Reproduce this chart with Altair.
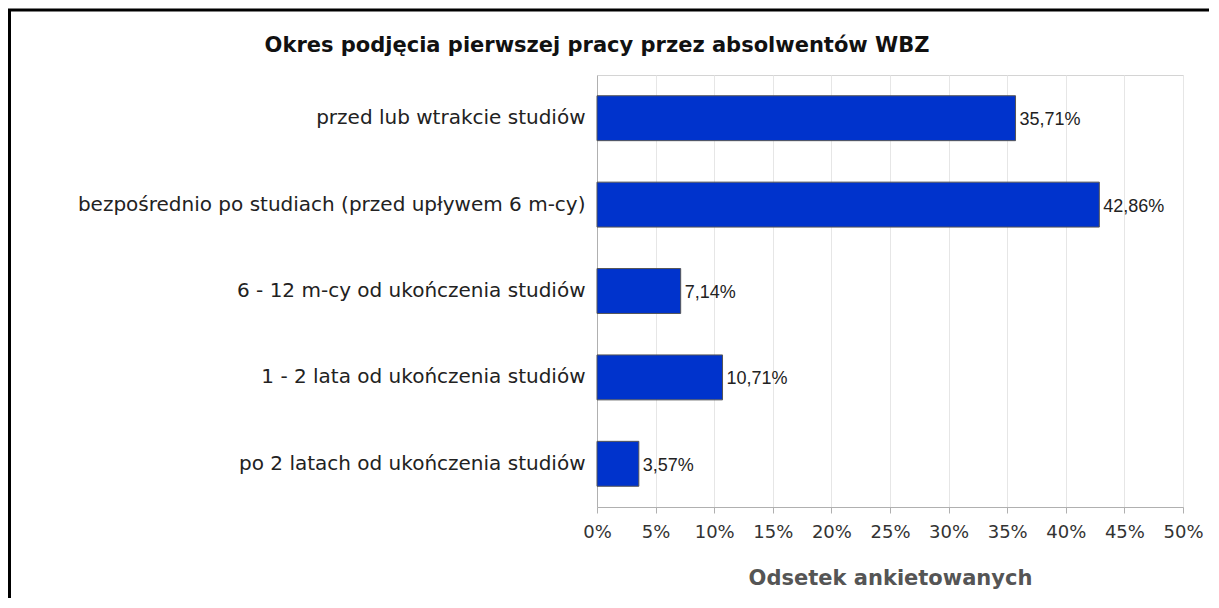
import altair as alt
import pandas as pd

title_text = "Okres podjęcia pierwszej pracy przez absolwentów WBZ"
categories = [
    "przed lub wtrakcie studiów",
    "bezpośrednio po studiach (przed upływem 6 m-cy)",
    "6 - 12 m-cy od ukończenia studiów",
    "1 - 2 lata od ukończenia studiów",
    "po 2 latach od ukończenia studiów",
]
values = [35.71, 42.86, 7.14, 10.71, 3.57]
value_labels = ["35,71%", "42,86%", "7,14%", "10,71%", "3,57%"]
x_ticks = [0, 5, 10, 15, 20, 25, 30, 35, 40, 45, 50]

df = pd.DataFrame({"cat": categories, "val": values, "lab": value_labels})

W, H = 586, 432

base = alt.Chart(df)

y_enc = alt.Y(
    "cat:N",
    sort=categories,
    scale=alt.Scale(paddingInner=0.48, paddingOuter=0.24),
    axis=alt.Axis(
        title=None,
        ticks=False,
        labelFont="DejaVu Sans",
        labelFontSize=20,
        labelColor="#222222",
        labelPadding=12,
        labelLimit=700,
        domainColor="#b0b0b0",
    ),
)
x_enc = alt.X(
    "val:Q",
    scale=alt.Scale(domain=[0, 50], nice=False),
    axis=alt.Axis(
        values=x_ticks,
        labelExpr="datum.value + '%'",
        labelOverlap=False,
        labelFlush=False,
        title="Odsetek ankietowanych",
        titleFont="DejaVu Sans",
        titleFontSize=21,
        titleFontWeight="bold",
        titleColor="#555555",
        titlePadding=26,
        labelFont="DejaVu Sans",
        labelFontSize=18,
        labelColor="#333333",
        labelPadding=10,
        tickSize=6,
        tickColor="#b0b0b0",
        domainColor="#b0b0b0",
        gridColor="#e6e6e6",
        grid=True,
    ),
)

bars = base.mark_bar(color="#0033cc", stroke="#555555", strokeWidth=1).encode(
    x=x_enc, y=y_enc
)
labels = base.mark_text(
    align="left", baseline="middle", dx=4, dy=2,
    font="Liberation Sans", fontSize=18, color="#222222"
).encode(x="val:Q", y=alt.Y("cat:N", sort=categories), text="lab:N")

frame_data = alt.Data(values=[{"k": 1}])
left_line = alt.Chart(frame_data).mark_rule(color="black", strokeWidth=3).encode(
    x=alt.value(-587.5), y=alt.value(-65), y2=alt.value(H + 95)
)
top_line = alt.Chart(frame_data).mark_rule(color="black", strokeWidth=3).encode(
    y=alt.value(-65), x=alt.value(-589), x2=alt.value(W + 30)
)
title_mark = alt.Chart(pd.DataFrame({"t": [title_text]})).mark_text(
    align="center", baseline="middle", font="DejaVu Sans", fontSize=21,
    fontWeight="bold", color="#111111"
).encode(x=alt.value(0), y=alt.value(-29), text="t:N")

chart = alt.layer(bars, labels, left_line, top_line, title_mark).properties(
    width=W,
    height=H,
    autosize=alt.AutoSizeParams(type="none"),
    padding={"left": 589, "top": 67, "right": 26, "bottom": 91},
    background="white",
).configure_view(stroke="#d4d4d4", strokeWidth=1)

chart.save("out.html", embed_options={"renderer": "svg", "actions": False})
